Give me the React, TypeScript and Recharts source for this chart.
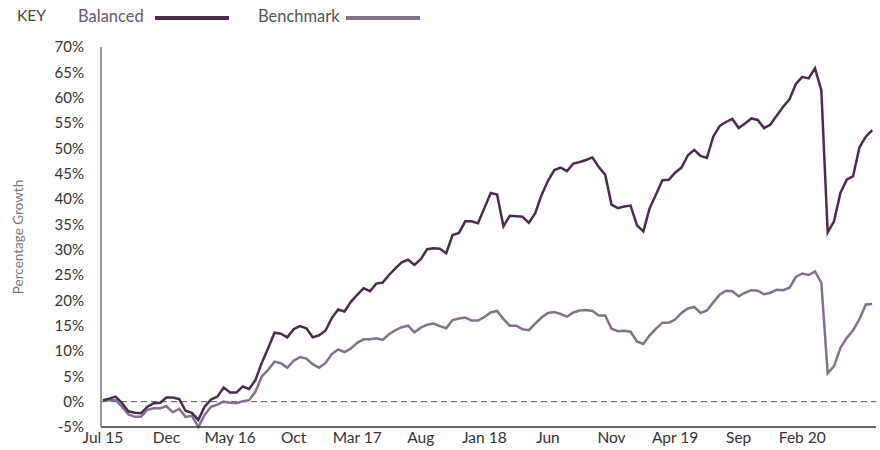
import React from 'react';
import { LineChart, Line, XAxis, YAxis, ReferenceLine, Legend } from 'recharts';

// half-month steps from Jul 2015
const balanced = [
  0.3, 0.6, 1.0, -0.3, -1.9, -2.2, -2.3, -1.0, -0.3, -0.2,
  0.8, 0.8, 0.5, -1.8, -2.2, -3.6, -1.0, 0.4, 1.0, 2.8,
  1.8, 1.8, 3.0, 2.5, 4.3, 7.7, 10.6, 13.6, 13.4, 12.7,
  14.3, 14.9, 14.5, 12.7, 13.1, 14.0, 16.5, 18.2, 17.8, 19.7,
  21.1, 22.4, 21.8, 23.3, 23.5, 25.0, 26.3, 27.5, 28.0, 27.0,
  28.1, 30.1, 30.3, 30.2, 29.3, 32.9, 33.3, 35.6, 35.6, 35.2,
  38.2, 41.2, 40.9, 34.6, 36.7, 36.6, 36.5, 35.3, 37.2, 40.8,
  43.6, 45.7, 46.2, 45.5, 47.0, 47.3, 47.7, 48.2, 46.3, 44.8,
  38.9, 38.2, 38.5, 38.7, 34.8, 33.6, 38.2, 40.9, 43.7, 43.8,
  45.2, 46.2, 48.6, 49.7, 48.5, 48.1, 52.3, 54.4, 55.2, 55.8,
  54.0, 54.9, 55.9, 55.6, 54.0, 54.7, 56.5, 58.2, 59.7, 62.7,
  64.1, 63.8, 65.8, 61.5, 33.4, 35.6, 41.2, 43.8, 44.5, 50.2,
  52.3, 53.6,
];

const benchmark = [
  0.2, 0.3, 0.3, -1.0, -2.5, -3.0, -3.0, -1.6, -1.3, -1.3,
  -0.9, -2.1, -1.4, -3.0, -2.8, -5.0, -2.6, -1.0, -0.6, 0.0,
  -0.2, -0.3, 0.1, 0.3, 2.0, 5.0, 6.3, 7.9, 7.6, 6.7,
  8.1, 8.8, 8.5, 7.4, 6.7, 7.6, 9.4, 10.3, 9.8, 10.5,
  11.6, 12.3, 12.3, 12.5, 12.2, 13.3, 14.1, 14.7, 15.0, 13.7,
  14.6, 15.2, 15.4, 14.9, 14.5, 16.1, 16.4, 16.6, 16.0, 16.0,
  16.7, 17.6, 17.9, 16.3, 15.0, 15.0, 14.3, 14.1, 15.4, 16.6,
  17.5, 17.7, 17.3, 16.8, 17.6, 18.0, 18.1, 17.9, 17.0, 17.0,
  14.4, 13.9, 14.0, 13.8, 11.9, 11.4, 13.1, 14.4, 15.6, 15.6,
  16.2, 17.5, 18.4, 18.7, 17.5, 18.0, 19.6, 21.1, 21.9, 21.8,
  20.8, 21.5, 22.0, 21.9, 21.2, 21.5, 22.1, 22.0, 22.5, 24.6,
  25.3, 25.0, 25.7, 23.5, 5.6, 7.0, 10.6, 12.6, 14.1, 16.3,
  19.2, 19.3,
];

const tickLabels = ['Jul 15', 'Dec', 'May 16', 'Oct', 'Mar 17', 'Aug', 'Jan 18', 'Jun', 'Nov', 'Apr 19', 'Sep', 'Feb 20'];
const tickMonths = [0, 5, 10, 15, 20, 25, 30, 35, 40, 45, 50, 55];
const yTicks = [-5, 0, 5, 10, 15, 20, 25, 30, 35, 40, 45, 50, 55, 60, 65, 70];

const BAL = '#4a2c4d';
const BEN = '#83708a';
const FONT = 'Lato, "Open Sans", sans-serif';

const data = balanced.map((v, i) => ({ t: i / 2, balanced: v, benchmark: benchmark[i] }));

const KeyLegend = () => (
  <div style={{ position: 'relative', height: 36, width: 880, fontFamily: FONT, fontSize: 16.5 }}>
    <span style={{ position: 'absolute', left: 17, top: 6, color: '#444', fontSize: 15.5 }}>KEY</span>
    <span style={{ position: 'absolute', left: 78, top: 6, color: '#6e5470' }}>Balanced</span>
    <div style={{ position: 'absolute', left: 155, top: 16, width: 74, height: 4, background: BAL }} />
    <span style={{ position: 'absolute', left: 258, top: 6, color: '#555' }}>Benchmark</span>
    <div style={{ position: 'absolute', left: 346, top: 16, width: 74, height: 4, background: BEN }} />
  </div>
);

export default function App() {
  return (
    <div style={{ position: 'absolute', left: 0, top: 0, width: 880, height: 450, background: '#fff' }}>
      <LineChart width={880} height={450} data={data} margin={{ top: 11, right: 4, bottom: 3, left: 0 }}>
        <Legend verticalAlign="top" align="left" content={<KeyLegend />} height={36}
          wrapperStyle={{ position: 'absolute', top: 0, left: 0, width: 880 }} />
        <XAxis dataKey="t" type="number" domain={[-0.15, 60.8]} ticks={tickMonths}
          tickFormatter={(v) => tickLabels[tickMonths.indexOf(v)]}
          tickLine={false} tickSize={0} tickMargin={5} height={20}
          axisLine={{ stroke: '#333', strokeWidth: 1.5 }}
          tick={{ fill: '#333', fontSize: 15.5, fontFamily: FONT }} interval={0} />
        <YAxis type="number" domain={[-5, 70]} ticks={yTicks} width={101}
          tickFormatter={(v) => `${v}%`} tickLine={false} tickSize={0} tickMargin={17}
          axisLine={{ stroke: '#777', strokeWidth: 1.5 }}
          tick={{ fill: '#333', fontSize: 15, fontFamily: FONT }}
          label={{ value: 'Percentage Growth', angle: -90, position: 'insideLeft', offset: 18,
            style: { textAnchor: 'middle', fill: '#777', fontSize: 13.5, fontFamily: FONT } }} />
        <ReferenceLine y={0} stroke="#555" strokeDasharray="6 4" />
        <Line type="linear" dataKey="benchmark" stroke={BEN} strokeWidth={2.5} dot={false} isAnimationActive={false} />
        <Line type="linear" dataKey="balanced" stroke={BAL} strokeWidth={2.5} dot={false} isAnimationActive={false} />
      </LineChart>
    </div>
  );
}
